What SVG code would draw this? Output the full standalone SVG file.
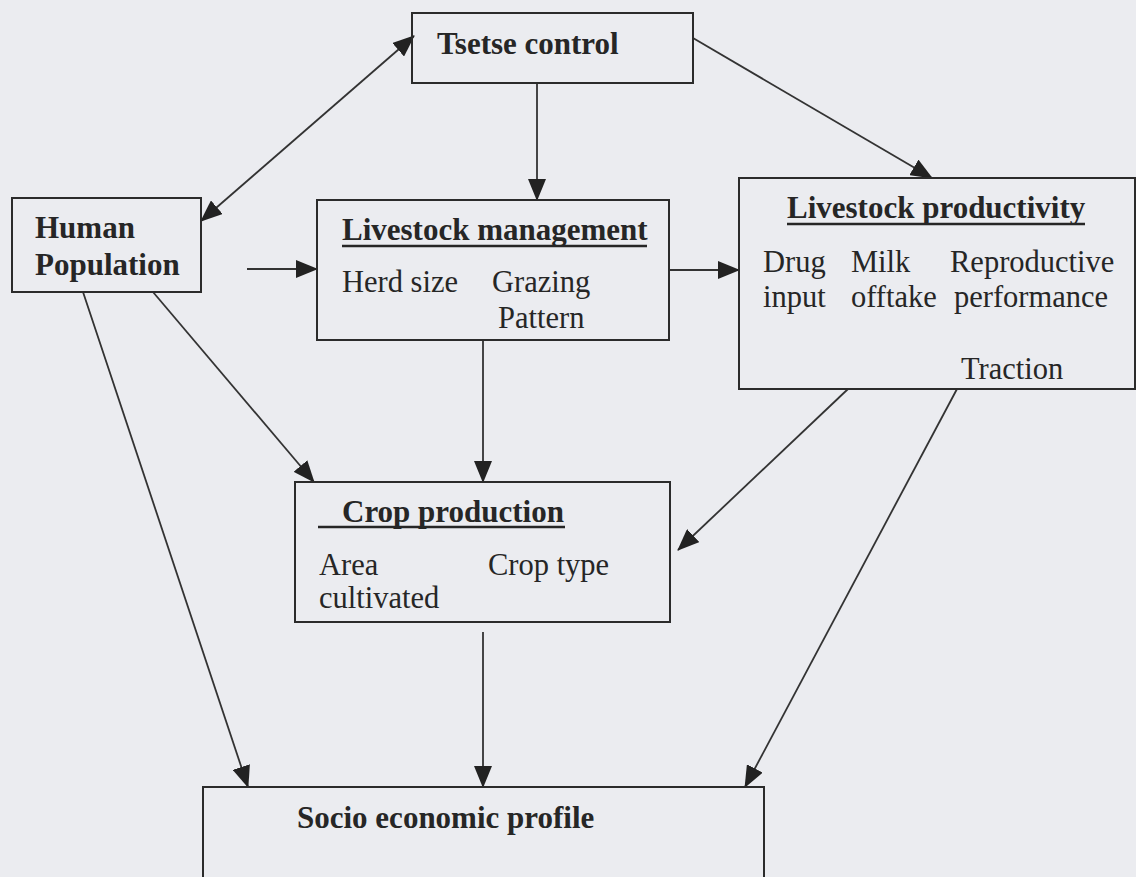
<svg xmlns="http://www.w3.org/2000/svg" width="1136" height="877" viewBox="0 0 1136 877">
<style>
.box{fill:none;stroke:#2b2b2b;stroke-width:2}
.t{font-family:"Liberation Serif","Times New Roman",serif;font-size:30.5px;fill:#262626}
.b{font-weight:bold;font-size:31px}
.ul{stroke:#262626;stroke-width:2.5}
.c{fill:none;stroke:#333;stroke-width:1.8}
</style>
<defs>
<marker id="ah" markerUnits="userSpaceOnUse" markerWidth="22" markerHeight="18" refX="21" refY="9" orient="auto-start-reverse">
<path d="M0,0 L22,9 L0,18 z" fill="#222"/>
</marker>
</defs>
<rect width="1136" height="877" fill="#ebecf0"/>
<g id="connectors">
<line class="c" x1="414" y1="36" x2="201" y2="221" marker-start="url(#ah)" marker-end="url(#ah)"/>
<line class="c" x1="537" y1="83" x2="537" y2="200" marker-end="url(#ah)"/>
<line class="c" x1="693" y1="38" x2="932" y2="178" marker-end="url(#ah)"/>
<line class="c" x1="247" y1="269" x2="317" y2="269" marker-end="url(#ah)"/>
<line class="c" x1="669" y1="270" x2="739" y2="270" marker-end="url(#ah)"/>
<line class="c" x1="153" y1="292" x2="314" y2="482" marker-end="url(#ah)"/>
<line class="c" x1="483" y1="340" x2="483" y2="482" marker-end="url(#ah)"/>
<line class="c" x1="848" y1="389" x2="678" y2="550" marker-end="url(#ah)"/>
<line class="c" x1="83" y1="292" x2="248" y2="787" marker-end="url(#ah)"/>
<line class="c" x1="483" y1="632" x2="483" y2="787" marker-end="url(#ah)"/>
<line class="c" x1="957" y1="389" x2="745" y2="787" marker-end="url(#ah)"/>
</g>
<g id="tsetse">
<rect class="box" x="412" y="13" width="281" height="70"/>
<text class="t b" x="437" y="54">Tsetse control</text>
</g>
<g id="human">
<rect class="box" x="12" y="198" width="189" height="94"/>
<text class="t b" x="35" y="238">Human</text>
<text class="t b" x="35" y="275">Population</text>
</g>
<g id="livestock-management">
<rect class="box" x="317" y="200" width="352" height="140"/>
<text class="t b" x="342" y="240">Livestock management</text>
<line class="ul" x1="342" y1="246" x2="647" y2="246"/>
<text class="t" x="342" y="292">Herd size</text>
<text class="t" x="492" y="292">Grazing</text>
<text class="t" x="498" y="328">Pattern</text>
</g>
<g id="livestock-productivity">
<rect class="box" x="739" y="178" width="396" height="211"/>
<text class="t b" x="787" y="218">Livestock productivity</text>
<line class="ul" x1="787" y1="224" x2="1085" y2="224"/>
<text class="t" x="763" y="272">Drug</text>
<text class="t" x="851" y="272">Milk</text>
<text class="t" x="950" y="272">Reproductive</text>
<text class="t" x="763" y="307">input</text>
<text class="t" x="851" y="307">offtake</text>
<text class="t" x="954" y="307">performance</text>
<text class="t" x="961" y="379">Traction</text>
</g>
<g id="crop-production">
<rect class="box" x="295" y="482" width="375" height="140"/>
<text class="t b" x="342" y="522">Crop production</text>
<line class="ul" x1="318" y1="527" x2="565" y2="527"/>
<text class="t" x="319" y="575">Area</text>
<text class="t" x="488" y="575">Crop type</text>
<text class="t" x="319" y="608">cultivated</text>
</g>
<g id="socio-economic">
<rect class="box" x="203" y="787" width="561" height="100"/>
<text class="t b" x="297" y="828">Socio economic profile</text>
</g>
</svg>
